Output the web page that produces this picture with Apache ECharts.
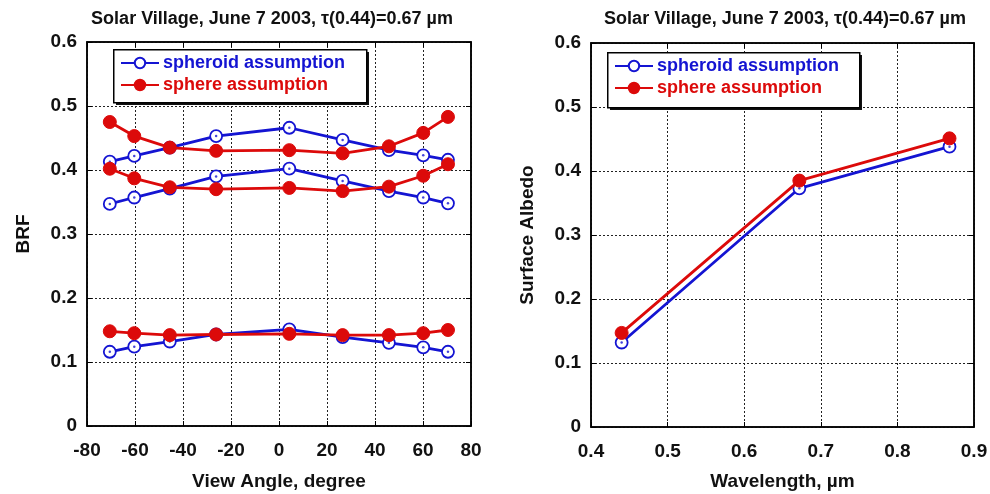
<!DOCTYPE html>
<html><head><meta charset="utf-8">
<script src="https://cdn.jsdelivr.net/npm/echarts@6/dist/echarts.min.js"></script>
<style>html,body{margin:0;padding:0;background:#fff}#c{width:990px;height:494px}</style>
</head><body><div id="c"></div>
<script>
const titleText = 'Solar Village, June 7 2003, \u03c4(0.44)=0.67 \u00b5m';
const angles = [-70.5, -60.3, -45.5, -26.2, 4.3, 26.5, 45.8, 60.1, 70.4];
const spheroidHigh = [0.413, 0.422, 0.435, 0.453, 0.466, 0.447, 0.431, 0.423, 0.416];
const sphereHigh   = [0.475, 0.453, 0.435, 0.430, 0.431, 0.426, 0.437, 0.458, 0.483];
const spheroidMid  = [0.347, 0.357, 0.371, 0.390, 0.402, 0.383, 0.367, 0.357, 0.348];
const sphereMid    = [0.402, 0.387, 0.373, 0.370, 0.372, 0.367, 0.374, 0.391, 0.409];
const spheroidLow  = [0.116, 0.124, 0.132, 0.143, 0.151, 0.139, 0.130, 0.123, 0.116];
const sphereLow    = [0.148, 0.145, 0.142, 0.143, 0.144, 0.142, 0.142, 0.145, 0.150];
const wavelengths = [0.44, 0.672, 0.868];
const albedoSpheroid = [0.132, 0.373, 0.438];
const albedoSphere   = [0.147, 0.385, 0.451];
const seriesNames = ['spheroid assumption', 'sphere assumption'];

const BLUE = '#1414d2', RED = '#dc0a0a';
const FONT = '"Liberation Sans", Arial, sans-serif';
const zip = (xs, ys) => xs.map((x, i) => [x, ys[i]]);

const chart = echarts.init(document.getElementById('c'), null, {renderer: 'canvas'});

function valAxis(idx, min, max, interval, pos, name, showLabel, fmt, nameGap) {
  return {
    type: 'value', gridIndex: idx, min, max, interval, position: pos,
    name: showLabel ? name : '', nameLocation: 'middle', nameGap,
    nameTextStyle: {fontFamily: FONT, fontWeight: 'bold', fontSize: 19, color: '#111'},
    axisLine: {show: true, onZero: false, lineStyle: {color: '#000', width: 1.5}},
    axisTick: {show: true, inside: true, length: 5, lineStyle: {color: '#000', width: 1}},
    axisLabel: {show: showLabel, fontFamily: FONT, fontWeight: 'bold', fontSize: 19, color: '#111',
      margin: pos === 'bottom' ? 15 : 10, formatter: fmt},
    splitLine: {show: showLabel, lineStyle: {color: '#222', width: 1, type: [2, 2]}}
  };
}
const yFmt = v => v === 0 ? '0' : v.toFixed(1);
const xFmtW = v => v.toFixed(1);

function lineSeries(name, data, xi, yi, color, filled) {
  return {
    type: 'line', name, data, xAxisIndex: xi, yAxisIndex: yi,
    symbol: 'circle', symbolSize: filled ? 13 : 12,
    lineStyle: {color, width: 2.8},
    itemStyle: filled ? {color, borderColor: color, borderWidth: 1} : {color: '#fff', borderColor: color, borderWidth: 1.8},
    color, animation: false, z: filled ? 4 : 2
  };
}
function dotSeries(data, xi, yi) {
  return {type: 'scatter', data, xAxisIndex: xi, yAxisIndex: yi, symbol: 'circle', symbolSize: 2.5,
    itemStyle: {color: BLUE}, silent: true, animation: false, z: 3};
}

function legendFor(left, top) {
  return {
    left, top, orient: 'vertical', itemGap: 2, itemWidth: 38, itemHeight: 13,
    padding: 0, selectedMode: false, z: 10,
    data: [
      {name: seriesNames[0], textStyle: {color: BLUE}},
      {name: seriesNames[1], textStyle: {color: RED}}
    ],
    textStyle: {fontFamily: FONT, fontWeight: 'bold', fontSize: 18, lineHeight: 20, padding: [0, 0, 0, -1]}
  };
}
function legendBox(x, y, w, h) {
  return [
    {type: 'rect', left: x + 3, top: y + 3, z: 4, shape: {width: w, height: h}, style: {fill: '#111'}},
    {type: 'rect', left: x, top: y, z: 5, shape: {width: w, height: h},
      style: {fill: '#fff', stroke: '#000', lineWidth: 1.5}}
  ];
}

const option = {
  backgroundColor: '#fff',
  animation: false,
  title: [
    {text: titleText, left: 267, top: 5, textAlign: 'center', textStyle: {fontFamily: FONT, fontWeight: 'bold', fontSize: 18, color: '#111'}},
    {text: titleText, left: 780, top: 5, textAlign: 'center', textStyle: {fontFamily: FONT, fontWeight: 'bold', fontSize: 18, color: '#111'}}
  ],
  graphic: [...legendBox(113, 49, 253, 53), ...legendBox(607, 52, 252, 55)],
  legend: [legendFor(120, 53), legendFor(614, 56)],
  grid: [
    {left: 87, top: 42, width: 384, height: 384, show: true, borderColor: '#000', borderWidth: 1.5, backgroundColor: 'transparent', containLabel: false, outerBoundsMode: 'none'},
    {left: 591, top: 43, width: 383, height: 384, show: true, borderColor: '#000', borderWidth: 1.5, backgroundColor: 'transparent', containLabel: false, outerBoundsMode: 'none'}
  ],
  xAxis: [
    valAxis(0, -80, 80, 20, 'bottom', 'View Angle, degree', true, v => String(v), 46),
    valAxis(1, 0.4, 0.9, 0.1, 'bottom', 'Wavelength, \u00b5m', true, xFmtW, 45),
    valAxis(0, -80, 80, 20, 'top', '', false, null, 0),
    valAxis(1, 0.4, 0.9, 0.1, 'top', '', false, null, 0)
  ],
  yAxis: [
    valAxis(0, 0, 0.6, 0.1, 'left', 'BRF', true, yFmt, 54),
    valAxis(1, 0, 0.6, 0.1, 'left', 'Surface Albedo', true, yFmt, 54),
    valAxis(0, 0, 0.6, 0.1, 'right', '', false, null, 0),
    valAxis(1, 0, 0.6, 0.1, 'right', '', false, null, 0)
  ],
  series: [
    lineSeries(seriesNames[0], zip(angles, spheroidHigh), 0, 0, BLUE, false),
    lineSeries(seriesNames[0], zip(angles, spheroidMid), 0, 0, BLUE, false),
    lineSeries(seriesNames[0], zip(angles, spheroidLow), 0, 0, BLUE, false),
    dotSeries(zip(angles, spheroidHigh), 0, 0),
    dotSeries(zip(angles, spheroidMid), 0, 0),
    dotSeries(zip(angles, spheroidLow), 0, 0),
    lineSeries(seriesNames[1], zip(angles, sphereHigh), 0, 0, RED, true),
    lineSeries(seriesNames[1], zip(angles, sphereMid), 0, 0, RED, true),
    lineSeries(seriesNames[1], zip(angles, sphereLow), 0, 0, RED, true),
    lineSeries(seriesNames[0], zip(wavelengths, albedoSpheroid), 1, 1, BLUE, false),
    dotSeries(zip(wavelengths, albedoSpheroid), 1, 1),
    lineSeries(seriesNames[1], zip(wavelengths, albedoSphere), 1, 1, RED, true)
  ]
};
chart.setOption(option);
</script></body></html>
